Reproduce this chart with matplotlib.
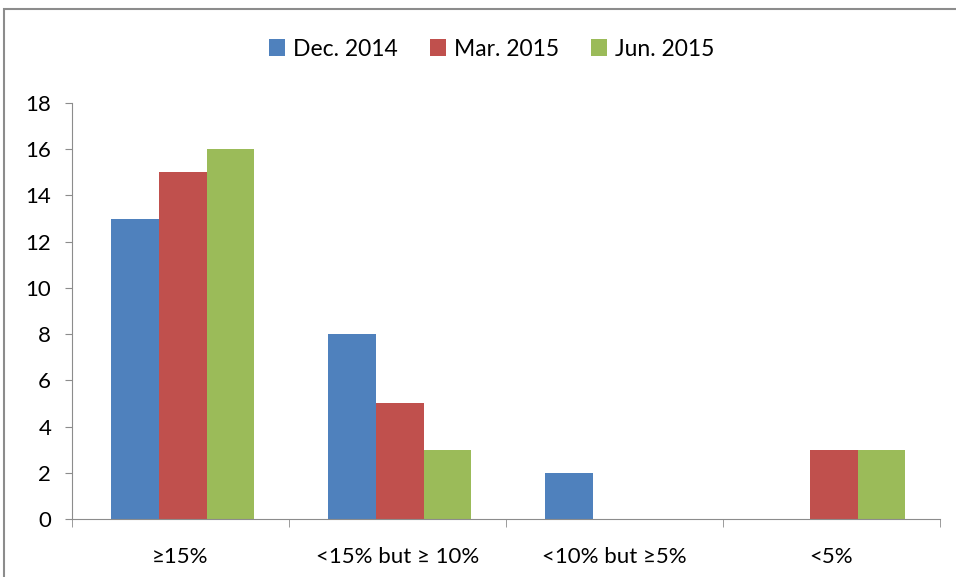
import matplotlib
matplotlib.use("Agg")
import matplotlib.pyplot as plt
import numpy as np
from matplotlib.patches import Rectangle

categories = ["\u226515%", "<15% but \u2265 10%", "<10% but \u22655%", "<5%"]
series_names = ["Dec. 2014", "Mar. 2015", "Jun. 2015"]
dec_2014 = [13, 8, 2, 0]
mar_2015 = [15, 5, 0, 3]
jun_2015 = [16, 3, 0, 3]
y_ticks = [0, 2, 4, 6, 8, 10, 12, 14, 16, 18]

colors = ["#4F81BD", "#C0504D", "#9BBB59"]

plt.rcParams["font.family"] = ["Lato", "DejaVu Sans"]

W, H = 956, 577
fig = plt.figure(figsize=(W / 100, H / 100), dpi=100)
ax = fig.add_axes([72 / W, 1 - 519 / H, (940 - 72) / W, (519 - 103) / H])

# outer chart frame (cropped on the right and bottom)
fig.patches.append(Rectangle((4 / W, -0.1), 1.2, 1 - 9 / H + 0.1,
                             transform=fig.transFigure, fill=False,
                             edgecolor="#8C8C8C", lw=1.5))

x = np.arange(len(categories))
width = 0.22
shift = 0.01
for i, (name, vals) in enumerate(zip(series_names, [dec_2014, mar_2015, jun_2015])):
    ax.bar(x + shift + (i - 1) * width, vals, width, color=colors[i], label=name,
           edgecolor="none")

ax.set_xlim(-0.5, len(categories) - 0.5)
ax.set_ylim(0, 18)
ax.set_yticks(y_ticks)
ax.set_xticks(x)
ax.set_xticklabels(categories)
ax.set_xticks(np.arange(-0.5, len(categories)), minor=True)
ax.tick_params(axis="x", which="major", length=0, pad=20, labelsize=16)
ax.tick_params(axis="x", which="minor", length=6, color="#8C8C8C")
ax.tick_params(axis="y", length=5, color="#8C8C8C", labelsize=16, pad=10)

for side in ["top", "right"]:
    ax.spines[side].set_visible(False)
for side in ["left", "bottom"]:
    ax.spines[side].set_color("#8C8C8C")

ax.legend(loc="center", bbox_to_anchor=(492 / W, 1 - 49 / H),
          bbox_transform=fig.transFigure, ncol=3, frameon=False,
          fontsize=16.5, handlelength=0.7, handleheight=0.7,
          handletextpad=0.35, columnspacing=1.4)

fig.savefig("out.png", dpi=100)
